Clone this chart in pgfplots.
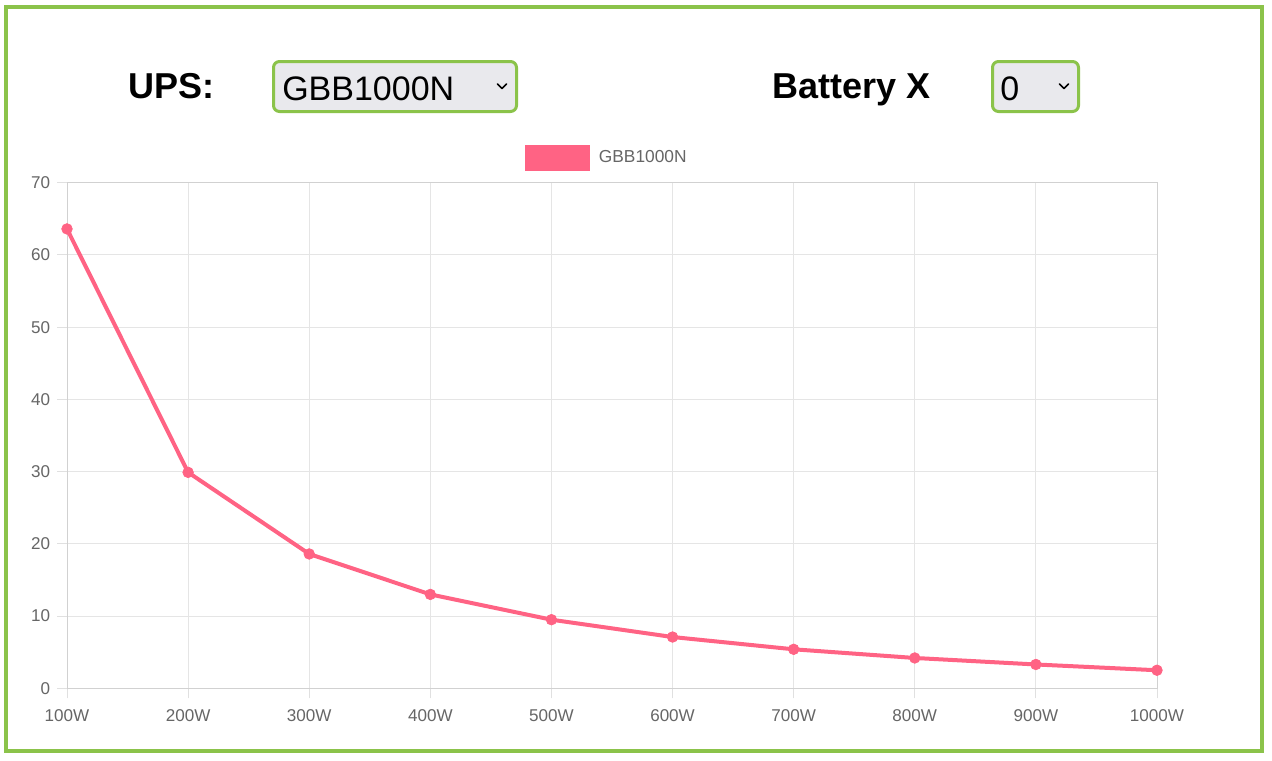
\documentclass[border=0pt]{standalone}
\usepackage{pgfplots}
\pgfplotsset{compat=1.18}
\usepackage{fontspec}
\setmainfont{Liberation Sans}
\definecolor{upspink}{HTML}{FF6384}
\definecolor{framegreen}{HTML}{8BC34A}
\definecolor{selgray}{HTML}{E9E9ED}
\definecolor{ticktext}{HTML}{666666}
\begin{document}
\begin{tikzpicture}
\begin{scope}[x=0.75pt,y=-0.75pt]
\useasboundingbox[fill=white] (0,0) rectangle (1272,761);
\end{scope}
\begin{axis}[
  at={(50.25pt,-516.225pt)}, anchor=south west,
  scale only axis, width=817.5pt, height=379.2pt,
  xmin=100, xmax=1000, ymin=0, ymax=70,
  xtick={100,200,...,1000},
  xticklabels={100W,200W,300W,400W,500W,600W,700W,800W,900W,1000W},
  ytick={0,10,...,70},
  grid=major,
  major grid style={color=black!10, line width=0.75pt},
  axis line style={color=black!18, line width=0.75pt},
  tick style={color=black!12, line width=0.75pt},
  tick align=outside, major tick length=7.5pt,
  xtick pos=bottom, ytick pos=left,
  /pgf/number format/assume math mode=true,
  tick label style={font=\fontsize{12.8}{14}\selectfont, text=ticktext},
  xticklabel style={inner sep=0pt, yshift=-8.5pt},
  yticklabel style={inner sep=0pt, xshift=-5pt},
  clip=false,
  legend style={at={(0.4955,1.049)}, anchor=center, draw=none, fill=none,
    inner sep=0pt, font=\fontsize{13}{14}\selectfont, text=ticktext,
    /tikz/every odd column/.append style={column sep=4.5pt}},
  legend image code/.code={\fill[upspink] (0pt,-8.4pt) rectangle (46pt,8.4pt);},
]
\addplot[color=upspink, line width=3pt, mark=*, mark size=4pt,
  mark options={fill=upspink, draw=upspink, line width=0.5pt}] coordinates {
  (100,63.6) (200,29.9) (300,18.6) (400,13.0) (500,9.5)
  (600,7.1) (700,5.4) (800,4.2) (900,3.3) (1000,2.5)
};
\addlegendentry{GBB1000N}
\end{axis}
\begin{scope}[x=0.75pt,y=-0.75pt]
% frame
\draw[framegreen, line width=3pt] (6,7) rectangle (1262,751);
% labels
\node[anchor=base west, inner sep=0pt, font=\fontsize{27}{30}\selectfont\bfseries] at (128,98) {UPS:};
\node[anchor=base west, inner sep=0pt, font=\fontsize{27}{30}\selectfont\bfseries] at (772,98) {Battery X};
% dropdowns
\draw[framegreen, line width=2.25pt, fill=selgray, rounded corners=4.5pt] (273.5,61.5) rectangle (516.5,111.5);
\node[anchor=base west, inner sep=0pt, font=\fontsize{25.5}{28}\selectfont] at (282,100) {GBB1000N};
\draw[line width=1.3pt, line cap=round, line join=round] (497.5,84) -- (502,88.5) -- (506.5,84);
\draw[framegreen, line width=2.25pt, fill=selgray, rounded corners=4.5pt] (992.5,61.5) rectangle (1078.5,111.5);
\node[anchor=base west, inner sep=0pt, font=\fontsize{25.5}{28}\selectfont] at (1000,100) {0};
\draw[line width=1.3pt, line cap=round, line join=round] (1059.5,84) -- (1064,88.5) -- (1068.5,84);
\end{scope}
\end{tikzpicture}
\end{document}
